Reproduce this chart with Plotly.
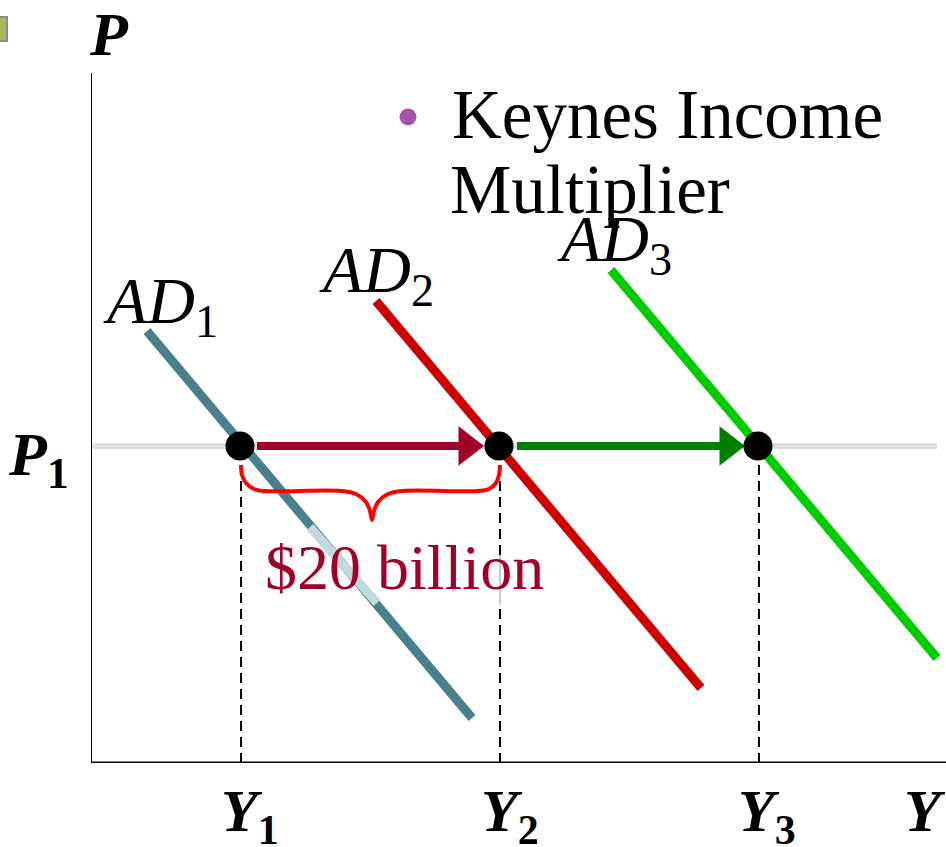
import plotly.graph_objects as go

SERIF = "Liberation Serif"
TEAL = "#4a808c"
RED = "#cc0000"
GREEN = "#00cc00"
MAROON = "#a00028"
DARK_GREEN = "#008000"
X_MAX = 855
Y_MAX = 690

# values measured from the axes origin
ad1_x = [56, 381]
ad1_y = [432, 45]
ad2_x = [285, 610]
ad2_y = [462, 75]
ad3_x = [520, 846]
ad3_y = [493, 105]
faded_x = [219, 286]
faded_y = [236, 160]

price_level = 317
price_x = [0, 846]
eq_x = [149, 408, 667]
eq_y = [317, 317, 317]
drop_x = [150, 409, 668]
faded_drop_y = [158, 208]

arrow1_x = [166, 372]
arrow2_x = [426, 632]
head_x = [376, 637]

brace_x = [150, 151, 155, 163, 174, 250, 265, 275, 279, 281, 283, 287, 297, 312, 387, 398, 405, 408, 409]
brace_y = [298, 288, 280, 274, 272, 272, 269, 261, 252, 243, 252, 261, 269, 272, 272, 274, 280, 288, 298]

bullet_x = [317]
bullet_y = [646]

fig = go.Figure()


def add_line(x, y, color, width, dash="solid"):
    fig.add_trace(go.Scatter(x=x, y=y, mode="lines", cliponaxis=False,
                             line=dict(color=color, width=width, dash=dash)))


add_line(price_x, [price_level, price_level], "#e0e0e0", 6)
for x in drop_x:
    add_line([x, x], [0, price_level], "black", 2, "10px,6px")
add_line([drop_x[1], drop_x[1]], faded_drop_y, "#cccccc", 2)
add_line([0, X_MAX], [0, 0], "black", 3)
add_line([0, 0], [0, Y_MAX], "black", 2)
add_line(ad1_x, ad1_y, TEAL, 9)
add_line(faded_x, faded_y, "#c5d9dc", 9)
add_line(ad2_x, ad2_y, RED, 9)
add_line(ad3_x, ad3_y, GREEN, 9)
add_line(arrow1_x, [price_level, price_level], MAROON, 8)
add_line(arrow2_x, [price_level, price_level], DARK_GREEN, 8)

fig.add_trace(go.Scatter(x=head_x[:1], y=[price_level], mode="markers", cliponaxis=False,
                         marker=dict(symbol="triangle-right", size=34, color=MAROON)))
fig.add_trace(go.Scatter(x=head_x[1:], y=[price_level], mode="markers", cliponaxis=False,
                         marker=dict(symbol="triangle-right", size=34, color=DARK_GREEN)))

fig.add_trace(go.Scatter(x=brace_x, y=brace_y, mode="lines", cliponaxis=False,
                         line=dict(color="#ff0000", width=4, shape="spline")))
fig.add_trace(go.Scatter(x=eq_x, y=eq_y, mode="markers", cliponaxis=False,
                         marker=dict(color="black", size=29)))
fig.add_trace(go.Scatter(x=bullet_x, y=bullet_y, mode="markers", cliponaxis=False,
                         marker=dict(color="#a855a8", size=17)))

# little clipped clip-art scrap in the top left corner
fig.add_shape(type="rect", xref="paper", yref="paper",
              x0=-100 / X_MAX, x1=-84 / X_MAX, y0=722 / Y_MAX, y1=746 / Y_MAX,
              fillcolor="#a8b860", line=dict(color="#8a8a8a", width=2))


def label(x, y, text, size, color="black"):
    # paper refs, since data-ref annotations outside the axis range get hidden
    fig.add_annotation(x=x / X_MAX, y=y / Y_MAX, xref="paper", yref="paper", text=text,
                       showarrow=False, xanchor="left", yanchor="middle",
                       font=dict(family=SERIF, size=size, color=color))


label(-4, 729, "<b><i>P</i></b>", 62)
label(359, 648, "Keynes Income", 69)
label(357, 573, "Multiplier", 69)
label(10, 458, "<i>AD</i><sub>1</sub>", 66)
label(226, 489, "<i>AD</i><sub>2</sub>", 66)
label(464, 520, "<i>AD</i><sub>3</sub>", 66)
label(-85, 305, "<b><i>P</i><sub>1</sub></b>", 62)
label(172, 196, "$20 billion", 64, MAROON)
label(128, -52, "<b><i>Y</i><sub>1</sub></b>", 60)
label(388, -52, "<b><i>Y</i><sub>2</sub></b>", 60)
label(645, -52, "<b><i>Y</i><sub>3</sub></b>", 60)
label(811, -48, "<b><i>Y</i></b>", 60)

fig.update_layout(
    width=946, height=847, showlegend=False,
    paper_bgcolor="white", plot_bgcolor="white",
    margin=dict(l=91, r=0, t=73, b=84),
    xaxis=dict(range=[0, X_MAX], showgrid=False, zeroline=False, showticklabels=False,
               showline=False),
    yaxis=dict(range=[0, Y_MAX], showgrid=False, zeroline=False, showticklabels=False,
               showline=False),
)

fig.write_html("out.html", config=dict(displayModeBar=False),
               post_script="document.body.style.margin='0';")
